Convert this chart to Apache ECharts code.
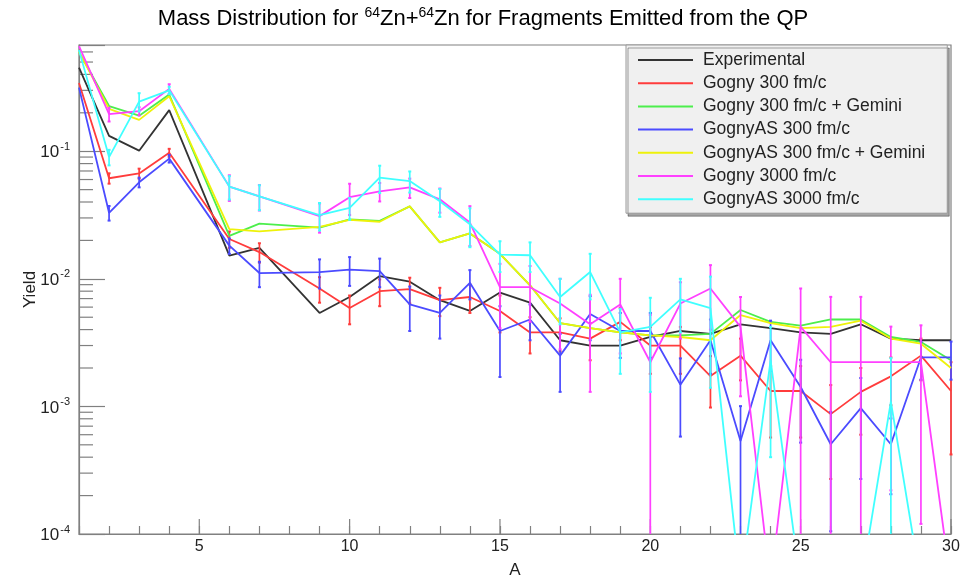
<!DOCTYPE html>
<html><head><meta charset="utf-8">
<script src="https://cdn.jsdelivr.net/npm/echarts@6/dist/echarts.min.js"></script>
<style>html,body{margin:0;padding:0;background:#fff}#c{width:966px;height:584px}</style>
</head><body><div id="c"></div>
<script>
// ---- data ----
const massNumbers = [1,2,3,4,6,7,9,10,11,12,13,14,15,16,17,18,19,20,21,22,23,24,25,26,27,28,29,30];
const xTickLabels = [5,10,15,20,25,30];
const yTickLabels = [1e-4,1e-3,1e-2,1e-1];

const experimental = [0.452,0.132,0.101,0.21,0.0152,0.0175,0.0054,0.0072,0.0105,0.0095,0.0068,0.0056,0.0078,0.0065,0.0033,0.0030,0.0030,0.0035,0.0039,0.0037,0.0044,0.0041,0.0038,0.0037,0.0044,0.0034,0.0033,0.0033];

const gogny300 = [0.342,0.0614,0.067,0.0974,0.0205,0.0162,0.0084,0.0059,0.0080,0.0083,0.0068,0.0072,0.0056,0.0038,0.0038,0.0034,0.0046,0.0030,0.0030,0.00173,0.0025,0.00132,0.00132,0.00087,0.0013,0.00172,0.0025,0.00132];
const gogny300Err = [0,0.0057,0.006,0.007,0.003,0.0028,0.0019,0.0015,0.0019,0.0019,0.0017,0.0018,0.0018,0.0012,0.0011,0.0011,0.0013,0.0012,0.0012,0.00075,0.0009,0.00075,0.00075,0.0006,0.0007,0.0007,0.0009,0.0009];

const gogny300Gemini = [0.60,0.226,0.19,0.278,0.0217,0.0271,0.0252,0.0292,0.0285,0.037,0.0193,0.0227,0.0157,0.0089,0.0045,0.0041,0.0038,0.0036,0.0036,0.0037,0.0057,0.0046,0.0043,0.0048,0.0048,0.0035,0.0032,0.0023];

const gognyAS300 = [0.315,0.0329,0.0571,0.0875,0.0182,0.0111,0.0113,0.0118,0.0115,0.0063,0.0054,0.0093,0.0039,0.0048,0.0025,0.0053,0.0039,0.0039,0.00148,0.0033,0.000535,0.0033,0.00142,0.000505,0.00097,0.000505,0.00242,0.00242];
const gognyAS300Err = [0,0.0043,0.005,0.006,0.0025,0.0025,0.0029,0.003,0.0029,0.0024,0.002,0.0024,0.0022,0.0015,0.0012,0.002,0.0015,0.0015,0.0009,0.0015,0.00047,0.0014,0.0009,0.0004,0.0007,0.0003,0.0008,0.0008];

const gognyAS300Gemini = [0.60,0.215,0.176,0.27,0.0245,0.0235,0.0255,0.0290,0.0280,0.037,0.0193,0.0227,0.0157,0.0089,0.0045,0.0041,0.0038,0.0036,0.0035,0.0033,0.0052,0.0045,0.0041,0.0042,0.0047,0.0034,0.0031,0.0020];

const gogny3000 = [0.665,0.195,0.206,0.308,0.0528,0.0443,0.031,0.0436,0.0484,0.052,0.042,0.0276,0.0086,0.0086,0.0064,0.0044,0.0063,0.00222,0.0064,0.0084,0.0042,0.00004,0.0042,0.00222,0.00222,0.00222,0.00222,0.00004];
const gogny3000Err = [0,0.024,0.015,0.027,0.012,0.01,0.008,0.012,0.008,0.009,0.009,0.0095,0.0045,0.004,0.0036,0.0031,0.0037,0.003,0.003,0.0044,0.003,0,0.0042,0.005,0.005,0.002,0.0021,0];

const gognyAS3000 = [0.62,0.090,0.245,0.30,0.0528,0.0443,0.0316,0.036,0.062,0.0584,0.0406,0.0267,0.0155,0.0153,0.0072,0.0113,0.0038,0.0042,0.0069,0.0059,0.00004,0.0023,0.00004,0.00004,0.00004,0.00109,0.00004,0.00004];
const gognyAS3000Err = [0,0.0125,0.04,0.02,0.011,0.0098,0.0077,0.007,0.015,0.011,0.01,0.009,0.0042,0.004,0.0028,0.0044,0.002,0.0029,0.0031,0.0045,0,0.0019,0,0,0,0.0013,0,0];

const seriesNames = ['Experimental','Gogny 300 fm/c','Gogny 300 fm/c + Gemini','GognyAS 300 fm/c','GognyAS 300 fm/c + Gemini','Gogny 3000 fm/c','GognyAS 3000 fm/c'];
const seriesValues = [experimental,gogny300,gogny300Gemini,gognyAS300,gognyAS300Gemini,gogny3000,gognyAS3000];
const seriesErrors = [null,gogny300Err,null,gognyAS300Err,null,gogny3000Err,gognyAS3000Err];
const seriesColors = ['#333333','#ff3c3c','#4cee4c','#4b4bff','#eef20a','#ff40ff','#40ffff'];

// ---- chart ----
const FONT = '"Liberation Sans", Arial, Helvetica, sans-serif';
const Y_MIN = 1e-4, Y_MAX = 0.68, X_MIN = 1, X_MAX = 30;
const chart = echarts.init(document.getElementById('c'), null, {renderer: 'canvas'});

const series = [];
seriesNames.forEach((name, i) => {
  series.push({
    name, type: 'line', symbol: 'none', clip: true,
    lineStyle: {color: seriesColors[i], width: 1.8},
    itemStyle: {color: seriesColors[i]},
    data: massNumbers.map((a, k) => [a, seriesValues[i][k]]),
    z: 3 + i * 0.01
  });
  if (seriesErrors[i]) {
    const col = seriesColors[i];
    series.push({
      name: name + ' err', type: 'custom', silent: true, z: 3 + i * 0.01,
      data: massNumbers.map((a, k) => [a, seriesValues[i][k], seriesErrors[i][k]]),
      encode: {x: 0, y: 1},
      renderItem: (params, api) => {
        const a = api.value(0), v = api.value(1), e = api.value(2);
        if (!e || v < Y_MIN) return null;
        const lo = Math.max(v - e, Y_MIN), hi = Math.min(v + e, Y_MAX);
        const p1 = api.coord([a, lo]), p2 = api.coord([a, hi]);
        const children = [
          {type: 'line', shape: {x1: p1[0], y1: p1[1], x2: p2[0], y2: p2[1]}, style: {stroke: col, lineWidth: 1.7}}
        ];
        if (v - e > Y_MIN) children.push({type: 'line', shape: {x1: p1[0]-1.5, y1: p1[1], x2: p1[0]+1.5, y2: p1[1]}, style: {stroke: col, lineWidth: 2}});
        children.push({type: 'line', shape: {x1: p2[0]-1.5, y1: p2[1], x2: p2[0]+1.5, y2: p2[1]}, style: {stroke: col, lineWidth: 2}});
        return {type: 'group', children};
      }
    });
  }
});

// minor y ticks (2..9 x 10^k) and major x ticks, drawn through the axes' scales
const yMinorTicks = [];
for (let p = -4; p <= -1; p++) for (let m = 2; m <= 9; m++) { const v = m * Math.pow(10, p); if (v < Y_MAX) yMinorTicks.push(v); }
series.push({
  name: 'yMinorTicks', type: 'custom', silent: true, z: 2,
  data: yMinorTicks.map(v => [X_MIN, v]), encode: {x: 0, y: 1},
  renderItem: (params, api) => {
    const p = api.coord([api.value(0), api.value(1)]);
    return {type: 'line', shape: {x1: p[0], y1: p[1], x2: p[0] + 14, y2: p[1]}, style: {stroke: '#808080', lineWidth: 1.2}};
  }
});
series.push({
  name: 'xMajorTicks', type: 'custom', silent: true, z: 2,
  data: xTickLabels.map(v => [v, Y_MIN]), encode: {x: 0, y: 1},
  renderItem: (params, api) => {
    const p = api.coord([api.value(0), api.value(1)]);
    return {type: 'line', shape: {x1: p[0], y1: p[1], x2: p[0], y2: p[1] - 15}, style: {stroke: '#808080', lineWidth: 1.2}};
  }
});

const option = {
  animation: false,
  backgroundColor: '#ffffff',
  title: {
    text: 'Mass Distribution for {sup|64}Zn+{sup|64}Zn for Fragments Emitted from the QP',
    left: 'center', top: 6, padding: 0,
    textStyle: {
      fontFamily: FONT, fontSize: 22, fontWeight: 'normal', color: '#000', lineHeight: 26,
      rich: {sup: {fontFamily: FONT, fontSize: 14, color: '#000', verticalAlign: 'top', lineHeight: 15}}
    }
  },
  grid: {left: 79, right: 15, top: 45, bottom: 43, show: true, borderColor: '#808080', borderWidth: 1.2, backgroundColor: 'transparent'},
  legend: {
    data: seriesNames, orient: 'vertical', left: 626, top: 45,
    padding: [6, 22, 5, 12], itemGap: 5.2, itemWidth: 55, itemHeight: 2, icon: 'rect', itemTextGap: 8,
    backgroundColor: '#f0f0f0', borderColor: '#999', borderWidth: 1,
    shadowColor: 'rgba(0,0,0,0.35)', shadowOffsetX: 2, shadowOffsetY: 3, shadowBlur: 0,
    textStyle: {fontFamily: FONT, fontSize: 17.5, color: '#222', lineHeight: 16, padding: [0, 0, 0, 5]},
    itemStyle: {borderWidth: 0},
    selectedMode: false
  },
  xAxis: {
    type: 'value', min: X_MIN, max: X_MAX, interval: 1,
    name: 'A', nameLocation: 'middle', nameGap: 28,
    nameTextStyle: {fontFamily: FONT, fontSize: 17, color: '#222'},
    axisLine: {lineStyle: {color: '#808080', width: 1.2}},
    axisTick: {inside: true, length: 8, lineStyle: {color: '#808080', width: 1.2}},
    axisLabel: {
      margin: 5, fontFamily: FONT, fontSize: 16, color: '#222',
      formatter: v => (xTickLabels.indexOf(Math.round(v)) >= 0 && Math.abs(v - Math.round(v)) < 1e-9) ? String(Math.round(v)) : ''
    },
    splitLine: {show: false}
  },
  yAxis: {
    type: 'log', logBase: 10, min: Y_MIN, max: Y_MAX,
    name: 'Yield', nameLocation: 'middle', nameGap: 40, nameRotate: 90, nameMoveOverlap: false,
    nameTextStyle: {fontFamily: FONT, fontSize: 17, color: '#222'},
    axisLine: {lineStyle: {color: '#808080', width: 1.2}},
    axisTick: {inside: true, length: 26, lineStyle: {color: '#808080', width: 1.2}},
    axisLabel: {
      margin: 9, fontFamily: FONT, color: '#222',
      formatter: v => {
        for (const t of yTickLabels) if (Math.abs(v - t) / t < 1e-6) return '{b|10}{s|' + Math.round(Math.log10(t)) + '}';
        return '';
      },
      rich: {
        b: {fontFamily: FONT, fontSize: 17, color: '#222', lineHeight: 20, verticalAlign: 'bottom'},
        s: {fontFamily: FONT, fontSize: 11, color: '#222', lineHeight: 20, verticalAlign: 'top', padding: [0,0,0,1]}
      }
    },
    splitLine: {show: false}
  },
  series
};
chart.setOption(option);
</script>
</body></html>
